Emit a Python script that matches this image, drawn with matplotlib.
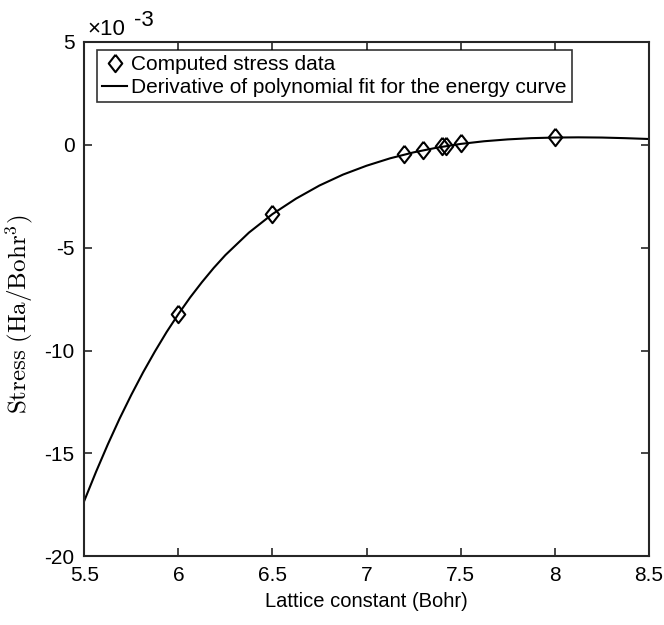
import numpy as np
import matplotlib
matplotlib.use('Agg')
import matplotlib.pyplot as plt

plt.rcParams['font.family'] = ['Liberation Sans', 'DejaVu Sans']
plt.rcParams['mathtext.fontset'] = 'cm'
plt.rcParams['axes.unicode_minus'] = False

# Computed stress data (units of 1e-3 Ha/Bohr^3)
lattice = [6.0, 6.5, 7.2, 7.3, 7.4, 7.425, 7.5, 8.0]
stress_e3 = [-8.23, -3.37, -0.45, -0.24, -0.08, -0.08, 0.08, 0.37]

# Derivative of polynomial fit
curve_x = [5.5, 5.5625, 5.625, 5.6875, 5.75, 5.8125, 5.875, 5.9375, 6.0,
           6.0625, 6.125, 6.1875, 6.25, 6.375, 6.5, 6.625,
           6.75, 6.875, 7.0, 7.125, 7.25, 7.375, 7.5, 7.625, 7.75, 7.875,
           8.0, 8.125, 8.25, 8.375, 8.5]
curve_y = [-17.3, -15.89, -14.56, -13.31, -12.15, -11.06, -10.05, -9.10, -8.23,
           -7.42, -6.68, -5.99, -5.36, -4.27, -3.37, -2.62,
           -1.98, -1.45, -1.02, -0.66, -0.37, -0.14, 0.04, 0.17, 0.26, 0.32,
           0.35, 0.36, 0.35, 0.32, 0.28]

xticks = [5.5, 6, 6.5, 7, 7.5, 8, 8.5]
yticks = [-20, -15, -10, -5, 0, 5]

fig = plt.figure(figsize=(6.64, 6.25), dpi=100)
ax = fig.add_axes([0.127, 0.110, 0.850, 0.823])

diamond = [(0, 1), (0.78, 0), (0, -1), (-0.78, 0), (0, 1)]
ax.plot(lattice, stress_e3, linestyle='none', marker=diamond, markersize=12.5,
        markerfacecolor='none', markeredgecolor='black', markeredgewidth=1.5,
        label='Computed stress data', zorder=3)
ax.plot(curve_x, curve_y, color='black', linewidth=1.5,
        label='Derivative of polynomial fit for the energy curve', zorder=2)

ax.set_xlim(5.5, 8.5)
ax.set_ylim(-20, 5)
ax.set_xticks(xticks)
ax.set_xticklabels([f'{v:g}' for v in xticks])
ax.set_yticks(yticks)
ax.set_yticklabels([f'{v:g}' for v in yticks])

axcol = '#262626'
for s in ax.spines.values():
    s.set_linewidth(1.5)
    s.set_color(axcol)
ax.tick_params(direction='in', length=6, width=1.2, top=True, right=True,
               labelsize=15, colors=axcol, labelcolor='black', pad=7)

ax.set_xlabel('Lattice constant (Bohr)', fontsize=14.5, labelpad=5)
ax.set_ylabel(r'$\mathrm{Stress\ (Ha/Bohr^3)}$', fontsize=18)
ax.yaxis.set_label_coords(-0.088, 0.47)

# exponent label like MATLAB
ax.text(0.006, 1.0136, '×10', transform=ax.transAxes, fontsize=16,
        ha='left', va='baseline')
ax.text(0.088, 1.030, '-3', transform=ax.transAxes, fontsize=16,
        ha='left', va='baseline')

leg = ax.legend(loc='upper left', bbox_to_anchor=(0.0225, 0.9844),
                fontsize=15, frameon=True, fancybox=False,
                edgecolor='black', handlelength=1.2, handletextpad=0.2,
                borderpad=0.25, labelspacing=0.2, borderaxespad=0)
leg.get_frame().set_linewidth(1.2)

fig.savefig('out.png', dpi=100)
